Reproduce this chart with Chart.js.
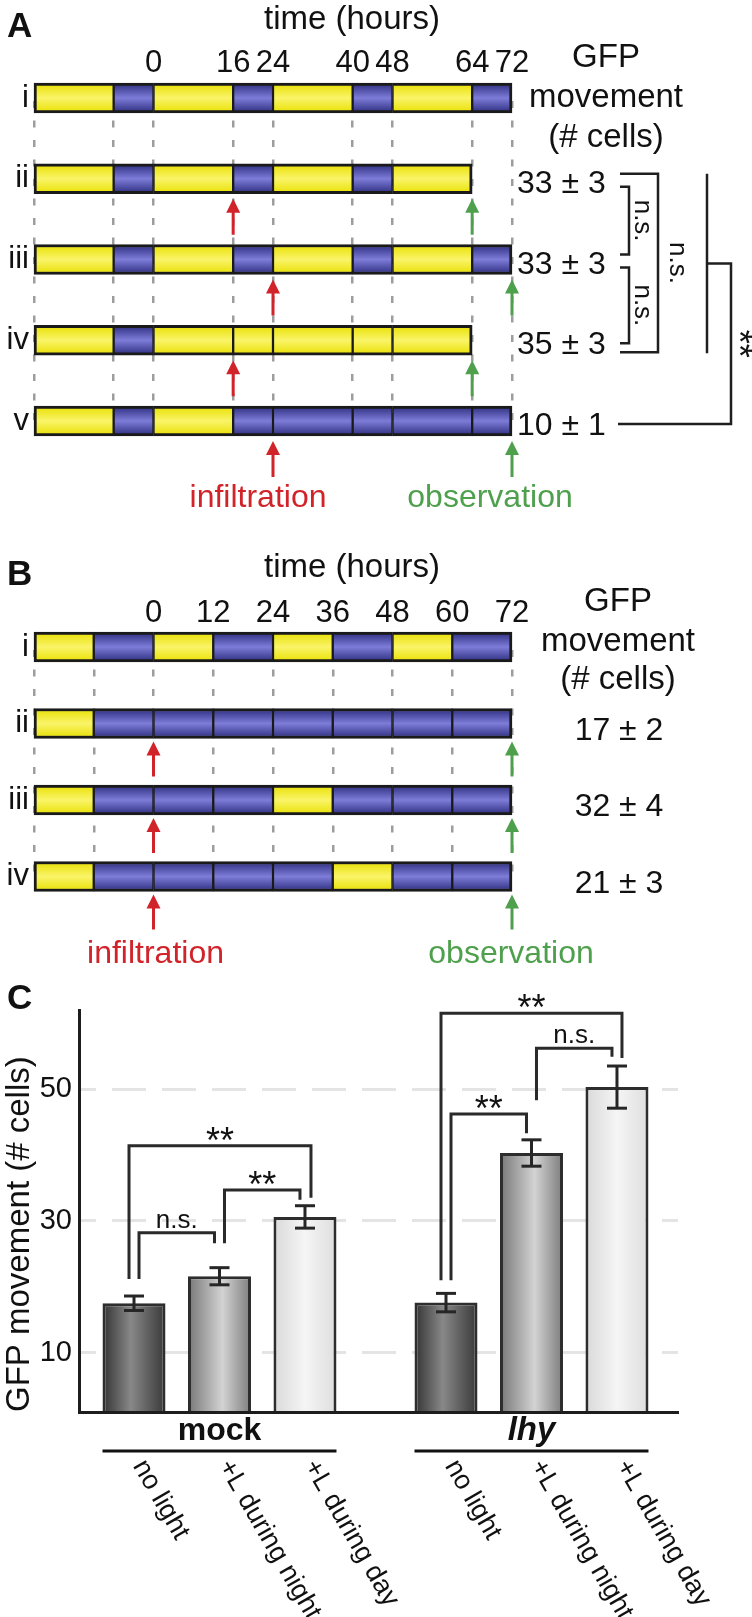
<!DOCTYPE html>
<html lang="en">
<head>
<meta charset="UTF-8" />
<title>GFP movement under light regimes</title>
<script src="https://cdn.jsdelivr.net/npm/chart.js"></script>
<style>
  html, body { margin: 0; padding: 0; background: #fff; }
  body { width: 752px; height: 1617px; position: relative; overflow: hidden; }
  canvas { position: absolute; left: 0; }
  #chartA { top: 0; }
  #chartB { top: 520px; }
  #chartC { top: 970px; }
</style>
</head>
<body>
<canvas id="chartA" width="752" height="520"></canvas>
<canvas id="chartB" width="752" height="450"></canvas>
<canvas id="chartC" width="752" height="647"></canvas>
<script>
// ---------- panel A : light (L) / dark (D) schedule ----------
const rowsA = ['i', 'ii', 'iii', 'iv', 'v'];
const hoursA = [-24, -8, 0, 16, 24, 40, 48, 64, 72];
const lightA = [
  ['L', 'D', 'L', 'D', 'L', 'D', 'L', 'D'],
  ['L', 'D', 'L', 'D', 'L', 'D', 'L'],
  ['L', 'D', 'L', 'D', 'L', 'D', 'L', 'D'],
  ['L', 'D', 'L', 'L', 'L', 'L', 'L'],
  ['L', 'D', 'L', 'D', 'D', 'D', 'D', 'D']
];
const cellsA = ['', '33 ± 3', '33 ± 3', '35 ± 3', '10 ± 1'];
const infiltrA = [null, 16, 24, 16, 24];
const observA = [null, 64, 72, 64, 72];

// ---------- panel B ----------
const rowsB = ['i', 'ii', 'iii', 'iv'];
const hoursB = [-24, -12, 0, 12, 24, 36, 48, 60, 72];
const lightB = [
  ['L', 'D', 'L', 'D', 'L', 'D', 'L', 'D'],
  ['L', 'D', 'D', 'D', 'D', 'D', 'D', 'D'],
  ['L', 'D', 'D', 'D', 'L', 'D', 'D', 'D'],
  ['L', 'D', 'D', 'D', 'D', 'L', 'D', 'D']
];
const cellsB = ['', '17 ± 2', '32 ± 4', '21 ± 3'];
const infiltrB = [null, 0, 0, 0];
const observB = [null, 72, 72, 72];

// ---------- panel C ----------
const genotypes = ['mock', 'lhy'];
const treatments = ['no light', '+L during night', '+L during day'];
const meanNoLight = [17.5, 17.6];
const meanNight = [21.6, 40.3];
const meanDay = [30.6, 50.3];
const errNoLight = [1.1, 1.4];
const errNight = [1.3, 2.0];
const errDay = [1.7, 3.2];
const yTicksC = [10, 30, 50];

const FAM = '"Liberation Sans", Arial, Helvetica, sans-serif';
Chart.defaults.font.family = FAM;
Chart.defaults.color = '#111';
const font = (px, style) => (style ? style + ' ' : '') + px + 'px ' + FAM;
const RED = '#d1232a', GREEN = '#4fa04d', INK = '#1f1f1f';

// gradient fills for the bars (vertical for timeline rows, horizontal for bar chart)
const SHADES = {
  L: [[0, '#e8e000'], [0.5, '#faf469'], [1, '#e8e000']],
  D: [[0, '#2b2b7d'], [0.5, '#7d7dd9'], [1, '#2b2b7d']],
  g0: [[0, '#333333'], [0.45, '#888888'], [1, '#383838']],
  g1: [[0, '#777777'], [0.55, '#d3d3d3'], [1, '#7c7c7c']],
  g2: [[0, '#d9d9d9'], [0.5, '#f5f5f5'], [1, '#dedede']]
};
const gradFill = {
  id: 'gradFill',
  beforeDatasetsDraw(chart) {
    const ctx = chart.ctx;
    chart.data.datasets.forEach((ds, di) => {
      chart.getDatasetMeta(di).data.forEach((el, i) => {
        const key = Array.isArray(ds.shade) ? ds.shade[i] : ds.shade;
        if (!key || !isFinite(el.x) || !isFinite(el.y)) return;
        let g;
        if (el.horizontal) g = ctx.createLinearGradient(0, el.y - el.height / 2, 0, el.y + el.height / 2);
        else g = ctx.createLinearGradient(el.x - el.width / 2, 0, el.x + el.width / 2, 0);
        SHADES[key].forEach(([o, c]) => g.addColorStop(o, c));
        el.options.backgroundColor = g;
      });
    });
  }
};

function glyphText(ctx, t, x, cy, align) {
  ctx.textAlign = align || 'center';
  ctx.textBaseline = 'alphabetic';
  const m = ctx.measureText(t);
  ctx.fillText(t, x, cy + (m.actualBoundingBoxAscent - m.actualBoundingBoxDescent) / 2);
}
function rotText(ctx, t, x, y, f) {
  ctx.save();
  ctx.translate(x, y);
  ctx.rotate(Math.PI / 2);
  ctx.font = f;
  glyphText(ctx, t, 0, 0);
  ctx.restore();
}
function arrow(ctx, x, yTip, len, color) {
  ctx.save();
  ctx.strokeStyle = color; ctx.fillStyle = color; ctx.lineWidth = 3;
  ctx.beginPath(); ctx.moveTo(x, yTip + 10); ctx.lineTo(x, yTip + len); ctx.stroke();
  ctx.beginPath(); ctx.moveTo(x, yTip); ctx.lineTo(x - 7, yTip + 14); ctx.lineTo(x + 7, yTip + 14);
  ctx.closePath(); ctx.fill();
  ctx.restore();
}
function path(ctx, pts) {
  ctx.beginPath();
  pts.forEach(([px, py], i) => (i ? ctx.lineTo(px, py) : ctx.moveTo(px, py)));
  ctx.stroke();
}

function timelineChart(id, rows, hours, light, layout, annot) {
  const datasets = [];
  for (let k = 0; k < hours.length - 1; k++) {
    datasets.push({
      data: light.map(row => (k < row.length ? [hours[k], hours[k + 1]] : null)),
      shade: light.map(row => row[k]),
      backgroundColor: () => '#cccccc',
      borderColor: '#1a1a1a',
      borderWidth: c => ({
        top: 3, bottom: 3,
        left: c.datasetIndex === 0 ? 3 : 1.5,
        right: c.datasetIndex === light[c.dataIndex].length - 1 ? 3 : 1.5
      }),
      borderSkipped: false,
      barThickness: 30,
      grouped: false,
      base: -1000, // keeps the zero grid line from trimming segments that touch hour 0
      clip: false
    });
  }
  return new Chart(document.getElementById(id), {
    type: 'bar',
    data: { labels: rows, datasets },
    options: {
      indexAxis: 'y',
      responsive: false,
      animation: false,
      events: [],
      layout: { padding: { top: 0, left: 0, right: 240, bottom: layout.bottom } },
      plugins: { legend: { display: false }, tooltip: { enabled: false } },
      scales: {
        x: {
          type: 'linear', position: 'top',
          min: hours[0], max: hours[hours.length - 1],
          afterBuildTicks: s => { s.ticks = hours.map(v => ({ value: v })); },
          afterFit: s => { s.height = layout.top; },
          ticks: {
            autoSkip: false, maxRotation: 0, font: { size: 31 }, color: '#111',
            padding: layout.tickPad,
            callback: v => (v >= 0 ? String(v) : '')
          },
          grid: { color: '#9d9d9d', lineWidth: 2.5, drawTicks: false },
          border: { display: false, dash: [7, 12.5], dashOffset: -3 }
        },
        y: {
          type: 'category', offset: false,
          afterFit: s => { s.width = 34; },
          ticks: { font: { size: 31 }, color: '#111', padding: 5 },
          grid: { display: false, drawTicks: false },
          border: { display: false }
        }
      }
    },
    plugins: [gradFill, annot]
  });
}

// ---------- annotations for A ----------
const annotA = {
  id: 'annotA',
  afterDraw(chart) {
    const { ctx, scales: { x, y } } = chart;
    const r = i => y.getPixelForValue(i);
    ctx.save();
    ctx.fillStyle = '#111';
    ctx.font = font(35, 'bold'); glyphText(ctx, 'A', 7, 25, 'left');
    ctx.font = font(33);
    glyphText(ctx, 'time (hours)', 352, 20);
    glyphText(ctx, 'GFP', 606, 55.5);
    glyphText(ctx, 'movement', 606, 96);
    glyphText(ctx, '(# cells)', 606, 138.5);
    ctx.font = font(32);
    cellsA.forEach((t, i) => { if (t) glyphText(ctx, t, x.right + 5, r(i) + 3, 'left'); });
    rowsA.forEach((_, i) => {
      if (infiltrA[i] != null) arrow(ctx, x.getPixelForValue(infiltrA[i]), r(i) + 20, 36, RED);
      if (observA[i] != null) arrow(ctx, x.getPixelForValue(observA[i]), r(i) + 20, 36, GREEN);
    });
    const last = rowsA.length - 1;
    ctx.fillStyle = RED; glyphText(ctx, 'infiltration', x.getPixelForValue(24) - 15, r(last) + 74.5);
    ctx.fillStyle = GREEN; glyphText(ctx, 'observation', x.getPixelForValue(72) - 22, r(last) + 74.5);

    // significance brackets
    ctx.strokeStyle = INK; ctx.fillStyle = '#111'; ctx.lineWidth = 2.5;
    const b1 = [r(1) + 8, r(2) - 5], b2 = [r(2) + 8, r(3) + 3], b3 = [r(1) - 5, r(3) + 12];
    path(ctx, [[620, b1[0]], [629, b1[0]], [629, b1[1]], [620, b1[1]]]);
    path(ctx, [[620, b2[0]], [629, b2[0]], [629, b2[1]], [620, b2[1]]]);
    path(ctx, [[620, b3[0]], [658, b3[0]], [658, b3[1]], [620, b3[1]]]);
    rotText(ctx, 'n.s.', 642, (b1[0] + b1[1]) / 2, font(26));
    rotText(ctx, 'n.s.', 642, (b2[0] + b2[1]) / 2, font(26));
    rotText(ctx, 'n.s.', 677, (b3[0] + b3[1]) / 2, font(26));
    const top = r(1) - 5, bot = r(3) + 13, mid = (top + bot) / 2, yv = r(4) + 3;
    path(ctx, [[707, top], [707, bot]]);
    path(ctx, [[707, mid], [731, mid], [731, yv], [618, yv]]);
    rotText(ctx, '**', 746, (mid + yv) / 2, font(36));
    ctx.restore();
  }
};

// ---------- annotations for B ----------
const annotB = {
  id: 'annotB',
  afterDraw(chart) {
    const { ctx, scales: { x, y } } = chart;
    const r = i => y.getPixelForValue(i);
    ctx.save();
    ctx.fillStyle = '#111';
    ctx.font = font(35, 'bold'); glyphText(ctx, 'B', 7, 53, 'left');
    ctx.font = font(33);
    glyphText(ctx, 'time (hours)', 352, 48.5);
    glyphText(ctx, 'GFP', 618, 79);
    glyphText(ctx, 'movement', 618, 120);
    glyphText(ctx, '(# cells)', 618, 160.5);
    ctx.font = font(32);
    cellsB.forEach((t, i) => { if (t) glyphText(ctx, t, 619, r(i) + 5); });
    rowsB.forEach((_, i) => {
      if (infiltrB[i] != null) arrow(ctx, x.getPixelForValue(infiltrB[i]), r(i) + 18, 35, RED);
      if (observB[i] != null) arrow(ctx, x.getPixelForValue(observB[i]), r(i) + 18, 35, GREEN);
    });
    const last = rowsB.length - 1;
    ctx.fillStyle = RED; glyphText(ctx, 'infiltration', x.getPixelForValue(0) + 2, r(last) + 74.5);
    ctx.fillStyle = GREEN; glyphText(ctx, 'observation', x.getPixelForValue(72) - 1, r(last) + 74.5);
    ctx.restore();
  }
};

// ---------- annotations for C ----------
// [genotype, fromBar, toBar, top, leftFoot, rightFoot (value units), leftDx, rightDx, label]
const bracketsC = [
  [0, 0, 1, 28.2, 21.2, 26.6, 5, -5, 'n.s.'],
  [0, 1, 2, 34.7, 26.6, 33.2, 5, -5, '**'],
  [0, 0, 2, 41.4, 21.2, 33.5, -5, 6, '**'],
  [1, 0, 2, 61.5, 21.0, 54.7, -5, 5, '**'],
  [1, 0, 1, 46.2, 21.0, 43.3, 5, -5, '**'],
  [1, 1, 2, 56.2, 48.3, 54.9, 5, -5, 'n.s.']
];
const annotC = {
  id: 'annotC',
  afterDraw(chart) {
    const { ctx, scales: { y } } = chart;
    const metas = [0, 1, 2].map(d => chart.getDatasetMeta(d));
    const means = [meanNoLight, meanNight, meanDay];
    const errs = [errNoLight, errNight, errDay];
    ctx.save();
    ctx.fillStyle = '#111';
    ctx.font = font(35, 'bold'); glyphText(ctx, 'C', 7, 27, 'left');

    // error bars
    ctx.strokeStyle = '#262626'; ctx.lineWidth = 3;
    metas.forEach((m, d) => m.data.forEach((el, g) => {
      const hi = y.getPixelForValue(means[d][g] + errs[d][g]);
      const lo = y.getPixelForValue(means[d][g] - errs[d][g]);
      path(ctx, [[el.x, hi], [el.x, lo]]);
      path(ctx, [[el.x - 10, hi], [el.x + 10, hi]]);
      path(ctx, [[el.x - 10, lo], [el.x + 10, lo]]);
    }));

    // significance brackets
    ctx.strokeStyle = '#2a2a2a';
    bracketsC.forEach(([g, a, b, top, lf, rf, dl, dr, lab]) => {
      const xa = metas[a].data[g].x + dl, xb = metas[b].data[g].x + dr;
      const yt = y.getPixelForValue(top);
      path(ctx, [[xa, y.getPixelForValue(lf)], [xa, yt], [xb, yt], [xb, y.getPixelForValue(rf)]]);
      ctx.font = lab === '**' ? font(36) : font(26);
      glyphText(ctx, lab, (xa + xb) / 2, yt - 12);
    });

    // group labels, underline, rotated treatment labels
    genotypes.forEach((gname, g) => {
      const e0 = metas[0].data[g], e1 = metas[1].data[g], e2 = metas[2].data[g];
      ctx.font = g === 0 ? font(32, 'bold') : font(33, 'italic bold');
      ctx.textAlign = 'center'; ctx.textBaseline = 'alphabetic';
      ctx.fillText(gname, e1.x, 470);
      ctx.strokeStyle = '#111'; ctx.lineWidth = 3;
      path(ctx, [[e0.x - e0.width / 2, 481], [e2.x + e2.width / 2, 481]]);
      ctx.font = font(27);
      metas.forEach((m, d) => {
        const el = m.data[g];
        ctx.save();
        ctx.translate(el.x + 5, 492);
        ctx.rotate(Math.PI / 3);
        ctx.textAlign = 'left'; ctx.textBaseline = 'middle';
        ctx.fillText(treatments[d], 0, 0);
        ctx.restore();
      });
    });
    ctx.restore();
  }
};

timelineChart('chartA', rowsA, hoursA, lightA, { top: 98, bottom: 99, tickPad: 16 }, annotA);
timelineChart('chartB', rowsB, hoursB, lightB, { top: 127, bottom: 93.5, tickPad: 15 }, annotB);

const datasetsC = [meanNoLight, meanNight, meanDay].map((vals, d) => ({
  label: treatments[d],
  data: vals.map((v, g) => ({ x: g, y: v })),
  shade: 'g' + d,
  backgroundColor: () => '#bbbbbb',
  borderColor: '#2d2d2d',
  borderWidth: 3,
  borderSkipped: false,
  categoryPercentage: 0.822,
  barPercentage: 0.737,
  clip: 0
}));

new Chart(document.getElementById('chartC'), {
  type: 'bar',
  data: { datasets: datasetsC },
  options: {
    responsive: false,
    animation: false,
    events: [],
    layout: { padding: { top: 40, left: 0, right: 74, bottom: 205 } },
    plugins: { legend: { display: false }, tooltip: { enabled: false } },
    scales: {
      x: {
        type: 'linear', min: -0.4503, max: 1.4696, offset: false,
        afterBuildTicks: s => { s.ticks = genotypes.map((_, i) => ({ value: i })); },
        afterFit: s => { s.height = 0; },
        ticks: { display: false },
        grid: { display: false, drawTicks: false },
        border: { display: true, width: 3, color: '#1d1d1d', z: 1 }
      },
      y: {
        min: 1, max: 62,
        afterBuildTicks: s => { s.ticks = yTicksC.map(v => ({ value: v })); },
        afterFit: s => { s.width = 79; },
        ticks: { font: { size: 29 }, color: '#111', padding: 7 },
        grid: { color: '#e4e4e4', lineWidth: 3, drawTicks: false },
        border: { display: true, width: 3, color: '#1d1d1d', dash: [34, 16], dashOffset: 19, z: 1 },
        title: { display: true, text: 'GFP movement (# cells)', font: { size: 33 }, color: '#111', align: 'start', padding: 0 }
      }
    }
  },
  plugins: [gradFill, annotC]
});
</script>
</body>
</html>
